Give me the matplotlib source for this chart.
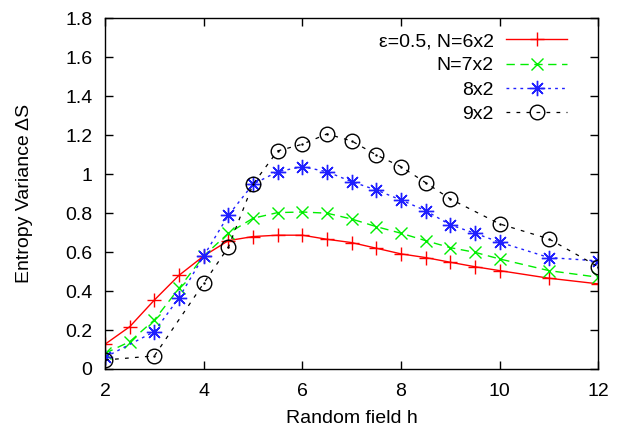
import numpy as np
import matplotlib
matplotlib.use('Agg')
from matplotlib import pyplot as plt

plt.rcParams['font.family'] = ['Liberation Sans', 'DejaVu Sans']

# data
h6 = [2, 2.5, 3, 3.5, 4, 4.5, 5, 5.5, 6, 6.5, 7, 7.5, 8, 8.5, 9, 9.5, 10, 11, 12]
s6 = [0.127, 0.217, 0.354, 0.481, 0.580, 0.659, 0.680, 0.687, 0.687, 0.666, 0.649,
      0.620, 0.591, 0.572, 0.548, 0.525, 0.505, 0.466, 0.437]

h7 = [2, 2.5, 3, 3.5, 4, 4.5, 5, 5.5, 6, 6.5, 7, 7.5, 8, 8.5, 9, 9.5, 10, 11, 12]
s7 = [0.080, 0.140, 0.252, 0.414, 0.580, 0.697, 0.774, 0.803, 0.806, 0.800, 0.770,
      0.731, 0.697, 0.659, 0.623, 0.599, 0.565, 0.505, 0.471]

h8 = [2, 3, 3.5, 4, 4.5, 5, 5.5, 6, 6.5, 7, 7.5, 8, 8.5, 9, 9.5, 10, 11, 12]
s8 = [0.060, 0.192, 0.366, 0.580, 0.789, 0.949, 1.013, 1.039, 1.013, 0.962,
      0.919, 0.868, 0.813, 0.740, 0.697, 0.651, 0.572, 0.555]

h9 = [2, 3, 4, 4.5, 5, 5.5, 6, 6.5, 7, 7.5, 8, 8.5, 9, 10, 11, 12]
s9 = [0.046, 0.067, 0.440, 0.625, 0.949, 1.120, 1.154, 1.207, 1.171,
      1.099, 1.039, 0.957, 0.873, 0.745, 0.668, 0.525]

labels = ['\u03b5=0.5, N=6x2', 'N=7x2', '8x2', '9x2']
xticks = [2, 4, 6, 8, 10, 12]
yticks = [0, 0.2, 0.4, 0.6, 0.8, 1, 1.2, 1.4, 1.6, 1.8]

fig = plt.figure(figsize=(6.18, 4.30), dpi=100)
ax = fig.add_axes([0.170, 0.142, 0.798, 0.815])

ax.plot(h6, s6, color='#ff0000', lw=1, ls='-', marker='+', ms=10, mew=1,
        label=labels[0])
ax.plot(h7, s7, color='#00ee00', lw=1, ls=(0, (6, 4)), marker='x', ms=9, mew=1,
        label=labels[1])
ax.plot(h8, s8, color='#2020ff', lw=1, ls=(0, (2, 3)), marker=(8, 2, 0), ms=11,
        mew=1, label=labels[2])
ax.plot(h9, s9, color='black', lw=0.9, ls=(0, (3, 5)), marker='o', ms=10.5, mew=1,
        mfc='none', label=labels[3])
ax.plot(h9, s9, ls='none', marker='.', ms=1.5, color='black')

ax.set_xlim(2, 12)
ax.set_ylim(0, 1.8)
ax.set_xticks(xticks)
ax.set_xticklabels([str(t) for t in xticks])
ax.set_yticks(yticks)
ax.set_yticklabels(['0', '0.2', '0.4', '0.6', '0.8', '1', '1.2', '1.4', '1.6', '1.8'])
ax.tick_params(direction='in', top=True, right=True, length=6, width=1,
               labelsize=14)
ax.tick_params(axis='x', pad=10)
ax.tick_params(axis='y', pad=9)
for sp in ax.spines.values():
    sp.set_linewidth(1)

ax.set_xlabel('Random field h', fontsize=14, labelpad=7)
ax.set_ylabel('Entropy Variance \u0394S', fontsize=14, labelpad=23)

ax.legend(loc='upper right', bbox_to_anchor=(0.952, 0.982), frameon=False,
          markerfirst=False, fontsize=14, handlelength=3.1, handletextpad=0.65,
          labelspacing=0.34, borderaxespad=0)

fig.savefig('out.png', dpi=100)
